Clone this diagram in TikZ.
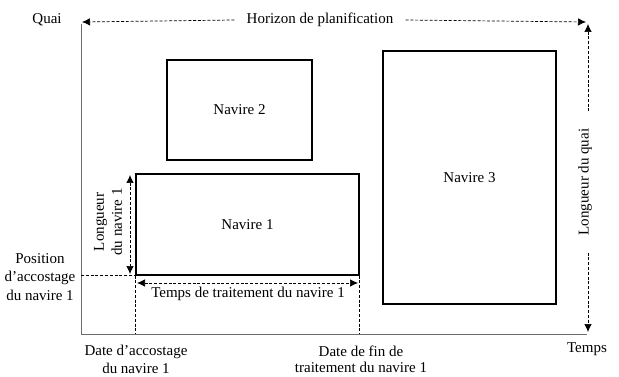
\documentclass[tikz,border=0pt]{standalone}
\usepackage{fontspec}
\setmainfont{Liberation Serif}
\usetikzlibrary{arrows.meta}
\begin{document}
\begin{tikzpicture}[x=1pt,y=-1pt,
 every node/.style={font=\fontsize{15}{18}\selectfont},
 ship/.style={draw,line width=1.1pt,inner sep=0pt},
 axis/.style={draw=gray!85!black,line width=1pt},
 guide/.style={dash pattern=on 3pt off 1.8pt, line width=0.7pt},
 tipend/.style={-{Latex[length=8pt,width=7.5pt]}},
 dim/.style={guide,{Latex[length=8pt,width=7.5pt]}-{Latex[length=8pt,width=7.5pt]}},
 lbl/.style={align=center,inner sep=0pt}]
\useasboundingbox (0,0) rectangle (619,377);

% axes
\coordinate (O) at (81,334);
\coordinate (Ytop) at (81,24);
\coordinate (Xend) at (587,334);
\draw[axis] (Ytop) -- (O) -- (Xend);

% ships
\node[ship, minimum width=223pt, minimum height=101pt] (n1) at (247.5,224.5) {Navire 1};
\node[ship, minimum width=145pt, minimum height=100pt] (n2) at (239.5,110) {Navire 2};
\node[ship, minimum width=173pt, minimum height=253pt] (n3) at (469.5,177.5) {Navire 3};

% planning horizon
\coordinate (TL) at (82,22);
\coordinate (TR) at (586,22);
\node[inner ysep=0pt, inner xsep=12pt] (hz) at (320,20) {Horizon de planification};
\draw[guide,tipend] (hz.west) -- (TL);
\draw[guide,tipend] (hz.east) -- (TR);

% quay length
\coordinate (VT) at (588,24);
\coordinate (VB) at (588,332);
\node[rotate=90, inner ysep=0pt, inner xsep=17pt] (lq) at (585,182) {Longueur du quai};
\draw[guide,tipend] (lq.east -| VT) -- (VT);
\draw[guide,tipend] (lq.west -| VB) -- (VB);

% guides for ship 1
\coordinate (Pd) at (O |- n1.south west);
\coordinate (Da) at (n1.south west |- O);
\coordinate (Df) at (n1.south east |- O);
\draw[guide] (Pd) -- (n1.south west);
\draw[guide] (n1.south west) -- (Da);
\draw[guide] (n1.south east) -- (Df);

% ship 1 length
\coordinate (La) at (130,175);
\coordinate (Lb) at (130,274);
\draw[dim] (La) -- (Lb);
\node[lbl, rotate=90] (ln1) at (108,222) {Longueur\\du navire 1};

% ship 1 processing time
\coordinate (Ta) at (137,283);
\coordinate (Tb) at (358,283);
\draw[dim] (Ta) -- (Tb);
\node[lbl] (tt) at (248,294) {Temps de traitement du navire 1};

% labels
\node[lbl] (quai) at (47,20) {Quai};
\node[lbl] (temps) at (587,349) {Temps};
\node[lbl, font=\fontsize{15}{18.5}\selectfont] (pos) at (40,277) {Position\\d’accostage\\du navire 1};
\node[lbl] (da) at (136,359) {Date d’accostage\\du navire 1};
\node[lbl, font=\fontsize{15}{16}\selectfont] (df) at (361,359) {Date de fin de\\traitement du navire 1};
\end{tikzpicture}
\end{document}
